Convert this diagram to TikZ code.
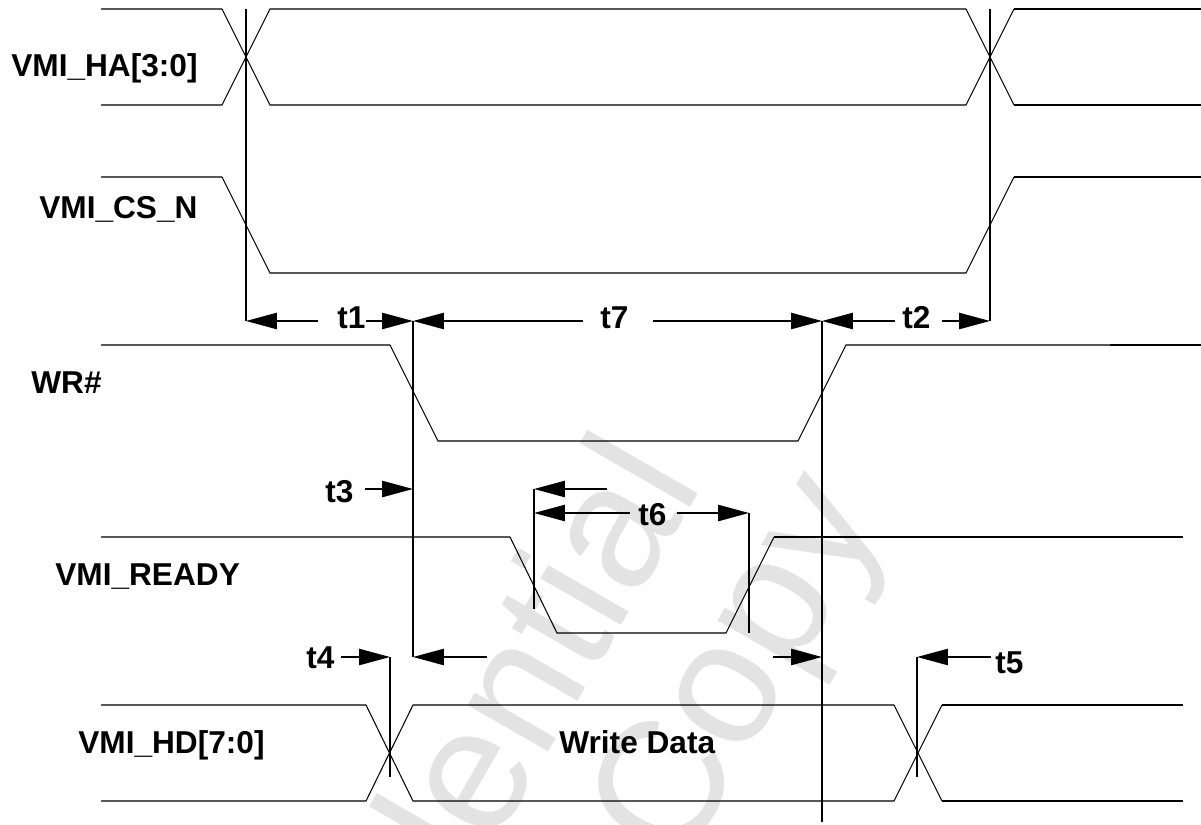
\documentclass[tikz,border=0pt]{standalone}
\usepackage{fontspec}
\setmainfont{Liberation Sans}
\usetikzlibrary{arrows.meta}
\begin{document}
\begin{tikzpicture}[x=0.02cm,y=-0.02cm,
  sig/.style={line width=0.6pt},
  sigthick/.style={line width=1.1pt},
  guide/.style={line width=1.1pt},
  dimarrow/.style={line width=1.1pt,-{Triangle[length=17.6pt,width=9.2pt]}},
  lab/.style={font=\fontsize{18}{20}\selectfont\bfseries, inner sep=0pt, anchor=base west},
  wm/.style={font=\fontsize{100}{110}\selectfont, text=black!11, inner sep=0pt, rotate=60}]
\useasboundingbox (0,0) rectangle (1201,825);
% watermark
\begin{scope}
\clip (0,0) rectangle (1201,825);
\node[wm, anchor=base east] (wmA) at (704,483) {Confidential};
\node[wm, anchor=base west] (wmB) at (680,872) {Copy};
\end{scope}
% signal labels
\node[lab] (lHA) at (11,76) {VMI\_HA[3:0]};
\node[lab] (lCS) at (39,218) {VMI\_CS\_N};
\node[lab] (lWR) at (31,393) {WR\#};
\node[lab] (lRDY) at (55,585) {VMI\_READY};
\node[lab] (lHD) at (78,753) {VMI\_HD[7:0]};
\node[lab] (wd) at (559,753) {Write Data};
% VMI_HA bus
\draw[sig] (101,9) -- (222,9) -- (270,105) -- (966,105) -- (1014,9);
\draw[sig] (101,105) -- (222,105) -- (270,9) -- (966,9) -- (1014,105);
\draw[sigthick] (1014,9) -- (1201,9);
\draw[sigthick] (1014,105) -- (1201,105);
% VMI_CS_N
\draw[sig] (101,177) -- (222,177) -- (270,273) -- (966,273) -- (1014,177);
\draw[sigthick] (1014,177) -- (1201,177);
% WR#
\draw[sig] (101,345) -- (390,345) -- (438,441) -- (798,441) -- (846,345) -- (1110,345);
\draw[sigthick] (1110,345) -- (1201,345);
% VMI_READY
\draw[sig] (101,537) -- (510,537) -- (557,633) -- (726,633) -- (774,537);
\draw[sigthick] (774,537) -- (1183,537);
% VMI_HD bus
\draw[sig] (101,705) -- (366,705) -- (413,801) -- (894,801) -- (942,705);
\draw[sig] (101,801) -- (366,801) -- (413,705) -- (894,705) -- (942,801);
\draw[sigthick] (942,705) -- (1183,705);
\draw[sigthick] (942,801) -- (1183,801);
% guide lines
\coordinate (g1a) at (246,9);   \coordinate (g1b) at (246,321);
\coordinate (g2a) at (990,9);   \coordinate (g2b) at (990,321);
\coordinate (g3a) at (413,321); \coordinate (g3b) at (413,657);
\coordinate (g4a) at (822,321); \coordinate (g4b) at (822,822);
\coordinate (g5a) at (534,489); \coordinate (g5b) at (534,609);
\coordinate (g6a) at (749,513); \coordinate (g6b) at (749,633);
\coordinate (g7a) at (390,657); \coordinate (g7b) at (390,777);
\coordinate (g8a) at (917,657); \coordinate (g8b) at (917,777);
\foreach \g in {1,...,8} {\draw[guide] (g\g a) -- (g\g b);}
% timing labels
\node[lab] (t1) at (337,328) {t1};
\node[lab] (t7) at (600,328) {t7};
\node[lab] (t2) at (902,328) {t2};
\node[lab] (t3) at (325,502) {t3};
\node[lab] (t6) at (638,525) {t6};
\node[lab] (t4) at (306,668) {t4};
\node[lab] (t5) at (995,673) {t5};
% arrow tails
\coordinate (a1) at (318,321); \coordinate (a2) at (366,321);
\coordinate (a3) at (583,321); \coordinate (a4) at (653,321);
\coordinate (a5) at (895,321); \coordinate (a6) at (942,321);
\coordinate (a7) at (365,489);
\coordinate (a8) at (607,489); \coordinate (a9) at (630,513); \coordinate (a10) at (677,513);
\coordinate (a11) at (487,657); \coordinate (a12) at (773,657);
\coordinate (a13) at (341,657); \coordinate (a14) at (991,657);
% dimension arrows
\draw[dimarrow] (a1) -- (g1b);
\draw[dimarrow] (a2) -- (g3a);
\draw[dimarrow] (a3) -- (g3a);
\draw[dimarrow] (a4) -- (g4a);
\draw[dimarrow] (a5) -- (g4a);
\draw[dimarrow] (a6) -- (g2b);
\draw[dimarrow] (a7) -- (413,489);
\draw[dimarrow] (a8) -- (g5a);
\draw[dimarrow] (a9) -- (534,513);
\draw[dimarrow] (a10) -- (g6a);
\draw[dimarrow] (a11) -- (g3b);
\draw[dimarrow] (a12) -- (822,657);
\draw[dimarrow] (a13) -- (g7a);
\draw[dimarrow] (a14) -- (g8a);
\end{tikzpicture}
\end{document}
